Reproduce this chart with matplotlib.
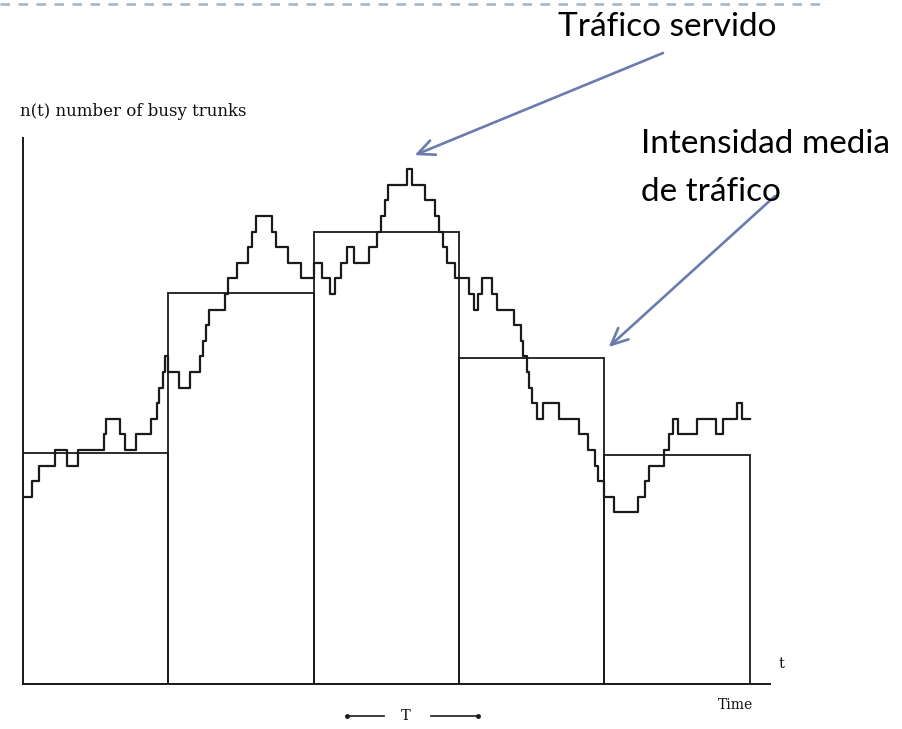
import matplotlib
matplotlib.use("Agg")
import matplotlib.pyplot as plt
from matplotlib.lines import Line2D

# ── data ──────────────────────────────────────────────────────────────────────
# n(t): busy trunks, step function (time in units where T = 10)
step_t = [0, 0.6, 1.1, 2.2, 3.0, 3.8, 5.6, 5.7, 6.7, 7.0,
          7.8, 8.8, 9.2, 9.35, 9.6, 9.8, 10.0, 10.7, 11.5, 12.2,
          12.4, 12.6, 12.8, 13.9, 14.1, 14.7, 15.5, 15.75, 16.0, 17.1,
          17.4, 18.2, 19.1, 20.0, 20.6, 21.1, 21.5, 21.9, 22.3, 22.8,
          23.8, 24.35, 24.6, 24.9, 25.1, 26.4, 26.75, 27.65, 28.35, 28.6,
          28.9, 29.15, 29.7, 30.7, 31.0, 31.3, 31.6, 32.3, 32.6, 33.8,
          34.25, 34.4, 34.65, 34.8, 35.0, 35.35, 35.75, 36.85, 38.25, 38.85,
          39.35, 39.55, 40.0, 40.65, 42.3, 42.8, 43.1, 44.1, 44.45, 44.7,
          45.1, 46.35, 47.65, 48.2, 49.15, 49.5, 50.05]
step_n = [12, 13, 14, 15, 14, 15, 16, 17, 16, 15,
          16, 17, 18, 19, 20, 21, 20, 19, 20, 21,
          22, 23, 24, 25, 26, 27, 28, 29, 30, 29,
          28, 27, 26, 27, 26, 25, 26, 27, 28, 27,
          28, 29, 30, 31, 32, 33, 32, 31, 30, 29,
          28, 27, 26, 25, 24, 25, 26, 25, 24, 23,
          22, 21, 20, 19, 18, 17, 18, 17, 16, 15,
          14, 13, 12, 11, 12, 13, 14, 15, 16, 17,
          16, 17, 16, 17, 18, 17, 17]

# mean traffic intensity per period T
period_start = [0, 10, 20, 30, 40]
period_len = 10
mean_n = [14.8, 25.05, 28.95, 20.9, 14.7]

W, H = 902, 729
LINE_C = "#1a1a1a"
ARROW_C = "#6b7bb0"
DASH_C = "#9db5ca"


def fx(px):
    return px / W


def fy(py):
    return 1 - py / H


fig = plt.figure(figsize=(W / 100, H / 100), dpi=100)
fig.patch.set_facecolor("white")

ax = fig.add_axes([fx(23), 45 / H, 747 / W, 546 / H])
ax.set_xlim(0, 51.4)
ax.set_ylim(0, 35.0)
ax.set_facecolor("none")
for side in ("top", "right"):
    ax.spines[side].set_visible(False)
for side in ("left", "bottom"):
    ax.spines[side].set_linewidth(1.4)
    ax.spines[side].set_color(LINE_C)
ax.set_xticks([])
ax.set_yticks([])

# mean-intensity boxes
ax.bar(period_start, mean_n, width=period_len, align="edge", fill=False,
       edgecolor=LINE_C, linewidth=1.3)

# served traffic n(t)
ax.step(step_t, step_n, where="post", color=LINE_C, linewidth=1.6)

# ── annotations ──────────────────────────────────────────────────────────────
serif = "DejaVu Serif"
fig.text(fx(20), fy(112), "n(t) number of busy trunks", family=serif,
         fontsize=12, ha="left", va="center", color="#111111")
fig.text(fx(781), fy(664), "t", family=serif, fontsize=10.5,
         ha="center", va="center", color="#111111")
fig.text(fx(718), fy(705), "Time", family=serif, fontsize=10,
         ha="left", va="center", color="#111111")
fig.text(fx(406), fy(716), "T", family=serif, fontsize=10.5,
         ha="center", va="center", color="#111111")
for x0, x1 in [(347, 384), (431, 478)]:
    fig.add_artist(Line2D([fx(x0), fx(x1)], [fy(716), fy(716)],
                          color=LINE_C, linewidth=1.2))
for xd in (347, 478):
    fig.add_artist(Line2D([fx(xd)], [fy(716)], marker="o", markersize=2.5,
                          color=LINE_C))

sans = "Lato"
fig.text(fx(558), fy(36), "Tráfico servido", family=sans, fontsize=24,
         ha="left", va="baseline", color="black")
fig.text(fx(641), fy(153), "Intensidad media", family=sans, fontsize=24,
         ha="left", va="baseline", color="black")
fig.text(fx(641), fy(201), "de tráfico", family=sans, fontsize=24,
         ha="left", va="baseline", color="black")

arrow_kw = dict(arrowstyle="->,head_length=1.2,head_width=0.55",
                color=ARROW_C, lw=1.9, shrinkA=0, shrinkB=0)
ax.annotate("", xy=(26.95, 33.9), xycoords="data",
            xytext=(663, H - 53), textcoords="figure pixels",
            arrowprops=arrow_kw, annotation_clip=False)
ax.annotate("", xy=(40.3, 21.6), xycoords="data",
            xytext=(775, H - 196), textcoords="figure pixels",
            arrowprops=arrow_kw, annotation_clip=False)

# dashed slide rule at the top
fig.add_artist(Line2D([0, fx(827)], [fy(4), fy(4)], color=DASH_C,
                      linewidth=1.8, linestyle=(0, (3.8, 3.4))))

fig.savefig("out.png", dpi=100, facecolor="white")
